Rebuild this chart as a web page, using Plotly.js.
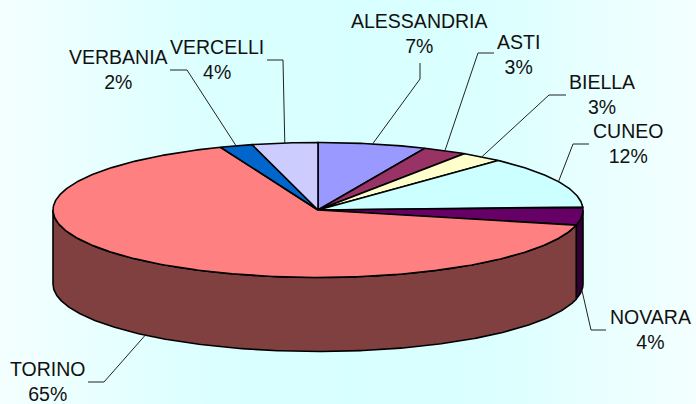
<!DOCTYPE html>
<html><head><meta charset="utf-8">
<script src="https://cdn.plot.ly/plotly-3.0.1.min.js"></script>
<style>
html,body{margin:0;padding:0;}
body{width:696px;height:404px;overflow:hidden;background:linear-gradient(to right,#f4ffff 0%,#dbffff 30%,#d8ffff 50%,#dbffff 70%,#f4ffff 100%);}
#chart{width:696px;height:404px;}
</style></head><body><div id="chart"></div>
<script>
// ---- data ----
const categories = ['ALESSANDRIA','ASTI','BIELLA','CUNEO','NOVARA','TORINO','VERBANIA','VERCELLI'];
const values = [6.6, 2.7, 2.6, 12.4, 4.3, 65.4, 2.0, 4.0];

// ---- styles ----
const topColors  = ['#9999FF','#993366','#FFFFCC','#CCFFFF','#660066','#FF8080','#0066CC','#CCCCFF'];
const sideColors = ['#4D4D80','#4D1A33','#808066','#668080','#330033','#804040','#003366','#666680'];

// label positions (layout): text centre, elbow point, line end
const labelLayout = {
  'ALESSANDRIA': {text:[419,33],  path:[[420,79],[420,63]]},
  'ASTI':        {text:[518,54],  path:[[478,53],[494,53]]},
  'BIELLA':      {text:[602,94.5],path:[[549,95],[566,95]]},
  'CUNEO':       {text:[628,143], path:[[573,144],[589,144]]},
  'NOVARA':      {text:[650,329.5],path:[[591,330],[606,330]]},
  'TORINO':      {text:[47,381],  path:[[104,382],[88,382]]},
  'VERBANIA':    {text:[118,69],  path:[[187,70],[170,70]]},
  'VERCELLI':    {text:[217,59.5],path:[[283,60],[267,60]]}
};

const W = 696, H = 404;
const CX = 318, CY = 210, RX = 265, RY = 67.5, DEPTH = 74;
const total = values.reduce((a,b)=>a+b,0);

function pt(frac, drop){
  const a = frac*2*Math.PI;
  return [CX + RX*Math.sin(a), CY - RY*Math.cos(a) + (drop||0)];
}
function arc(f0, f1, drop){
  const n = Math.max(2, Math.ceil(Math.abs(f1-f0)*720));
  const out = [];
  for (let i=0;i<=n;i++){ out.push(pt(f0 + (f1-f0)*i/n, drop)); }
  return out;
}

const traces = [];
const sideTraces = [], topTraces = [], leaderTraces = [];
const annotations = [];
let cum = 0;
categories.forEach((name, i) => {
  const f0 = cum/total, f1 = (cum + values[i])/total;
  cum += values[i];
  // front side
  const s0 = Math.max(f0, 0.25), s1 = Math.min(f1, 0.75);
  if (s1 > s0){
    const pts = arc(s0, s1, 0).concat(arc(s1, s0, DEPTH));
    pts.push(pts[0]);
    sideTraces.push({type:'scatter', mode:'lines', x:pts.map(p=>p[0]), y:pts.map(p=>p[1]),
      fill:'toself', fillcolor:sideColors[i], line:{color:'#000', width:1.6},
      hoverinfo:'skip', showlegend:false});
  }
  // top face
  const tp = [[CX,CY]].concat(arc(f0, f1, 0)); tp.push([CX,CY]);
  topTraces.push({type:'scatter', mode:'lines', x:tp.map(p=>p[0]), y:tp.map(p=>p[1]),
    fill:'toself', fillcolor:topColors[i], line:{color:'#000', width:1.6},
    hoverinfo:'skip', showlegend:false});
  // leader
  const mid = (f0+f1)/2;
  const anchor = (mid > 0.25 && mid < 0.75) ? pt(mid, DEPTH) : pt(mid, 0);
  const L = labelLayout[name];
  const lp = [anchor].concat(L.path);
  leaderTraces.push({type:'scatter', mode:'lines', x:lp.map(p=>p[0]), y:lp.map(p=>p[1]),
    line:{color:'#222', width:1}, hoverinfo:'skip', showlegend:false});
  annotations.push({x:L.text[0], y:L.text[1], xref:'x', yref:'y', showarrow:false,
    xanchor:'center', yanchor:'middle', align:'center',
    text: name + '<br>' + Math.round(values[i]/total*100) + '%',
    font:{family:'"Liberation Sans", Arial, sans-serif', size:19.5, color:'#111'}});
});

const data = sideTraces.concat(topTraces, leaderTraces);
const layout = {
  width:W, height:H, margin:{l:0,r:0,t:0,b:0},
  paper_bgcolor:'rgba(0,0,0,0)', plot_bgcolor:'rgba(0,0,0,0)',
  xaxis:{range:[0,W], visible:false, fixedrange:true},
  yaxis:{range:[H,0], visible:false, fixedrange:true},
  showlegend:false, annotations:annotations
};
Plotly.newPlot('chart', data, layout, {displayModeBar:false, staticPlot:true});
</script></body></html>
